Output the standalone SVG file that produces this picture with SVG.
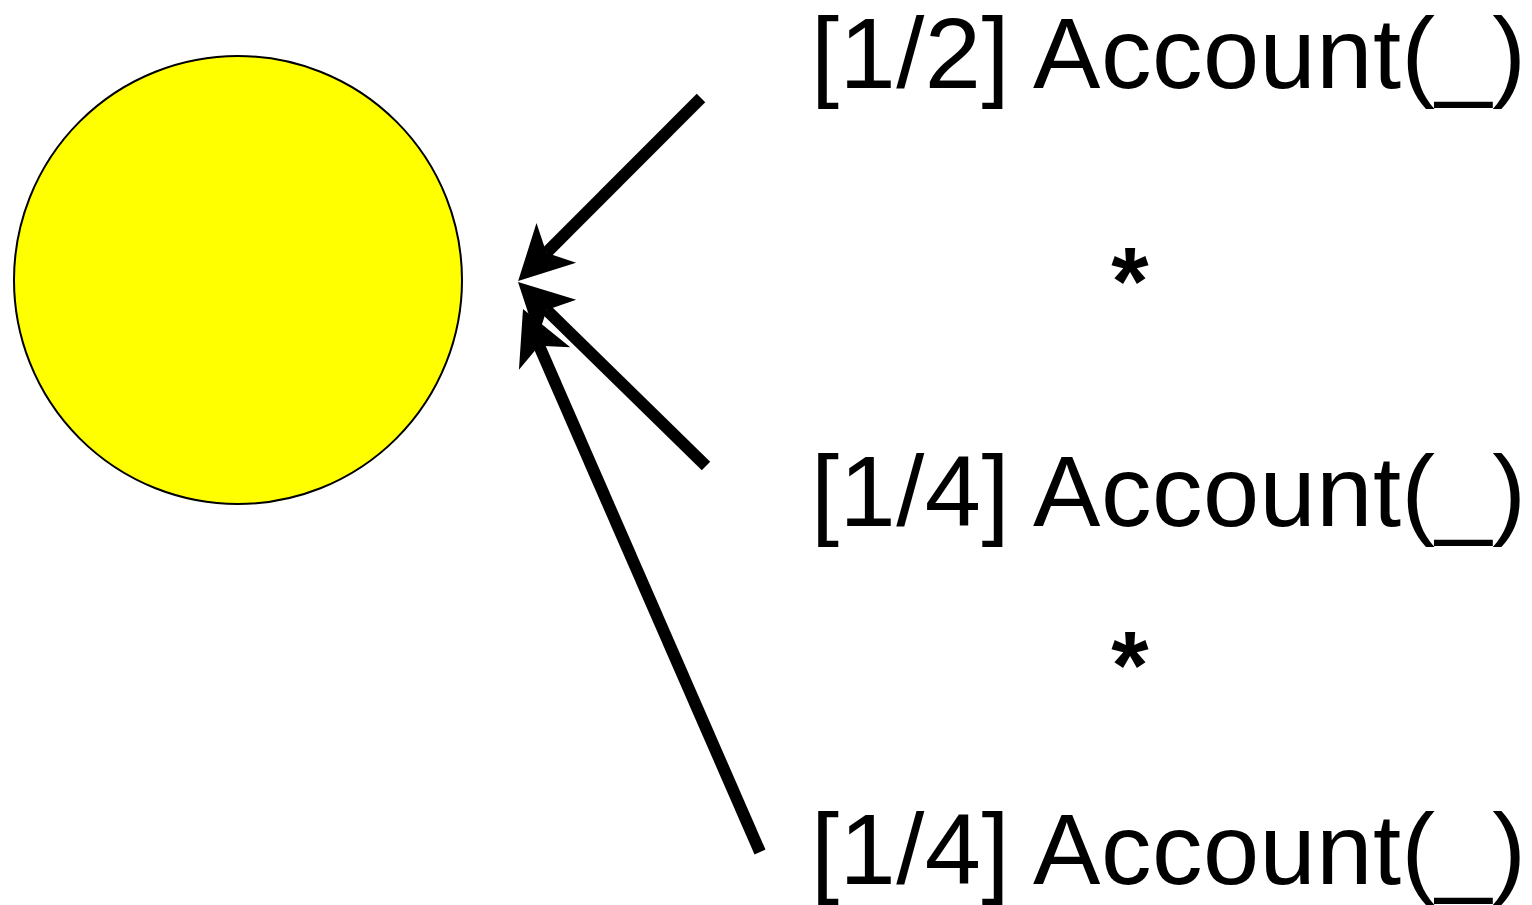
<svg xmlns="http://www.w3.org/2000/svg" width="1532" height="905" viewBox="0 0 1532 905">
  <style>
    .lbl { font-family: "Liberation Sans", Arial, sans-serif; font-size: 101px; letter-spacing: 0.5px; fill: #000; }
    .star { font-family: "Liberation Sans", Arial, sans-serif; font-size: 96px; font-weight: bold; fill: #000; text-anchor: middle; }
    .edge { stroke: #000; stroke-width: 12; fill: none; marker-end: url(#head); }
  </style>
  <defs>
    <marker id="head" markerUnits="userSpaceOnUse" markerWidth="80" markerHeight="80" refX="0" refY="0" orient="auto" overflow="visible">
      <path d="M40,0 L-14,-28 L0,0 L-14,28 Z" fill="#000"/>
    </marker>
  </defs>
  <rect width="1532" height="905" fill="#fff"/>
  <g id="node-circle">
    <circle cx="238" cy="280" r="224" fill="#ffff00" stroke="#000" stroke-width="2"/>
  </g>
  <g id="node-a">
    <text class="lbl" x="811" y="88">[1/2] Account(_)</text>
  </g>
  <g id="node-star1">
    <text class="star" x="1130" y="314">*</text>
  </g>
  <g id="node-b">
    <text class="lbl" x="811" y="526">[1/4] Account(_)</text>
  </g>
  <g id="node-star2">
    <text class="star" x="1130" y="698">*</text>
  </g>
  <g id="node-c">
    <text class="lbl" x="811" y="884">[1/4] Account(_)</text>
  </g>
  <g id="connectors">
    <path class="edge" d="M701,98 L546.4,252.8"/>
    <path class="edge" d="M706,466 L546.6,310"/>
    <path class="edge" d="M760,852 L539,345.7"/>
  </g>
</svg>
